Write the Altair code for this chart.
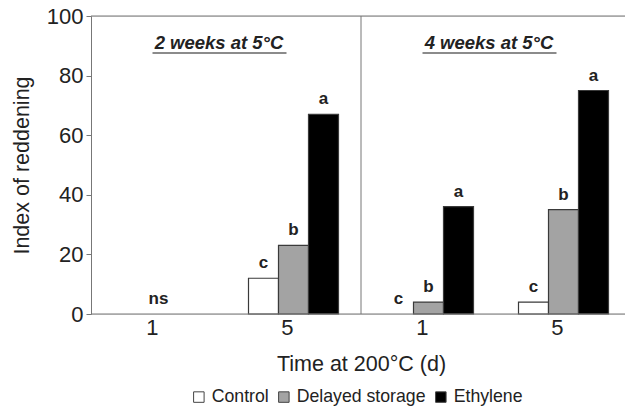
import altair as alt
import pandas as pd

groups = ["2w-1", "2w-5", "4w-1", "4w-5"]
treatments = ["Control", "Delayed storage", "Ethylene"]
control = [0, 12, 0, 4]
delayed = [0, 23, 4, 35]
ethylene = [0, 67, 36, 75]
letters_control = ["", "c", "c", "c"]
letters_delayed = ["", "b", "b", "b"]
letters_ethylene = ["", "a", "a", "a"]
ns_group = ["2w-1"]
ns_label = ["ns"]
panel_titles = ["2 weeks at 5°C", "4 weeks at 5°C"]
panel_centers = ["2w-5", "4w-5"]   # left band edge of these groups = panel centre
divider_group = ["4w-1"]
y_ticks = [0, 20, 40, 60, 80, 100]

rows = []
for i, g in enumerate(groups):
    for t, vals, labs in zip(treatments,
                             [control, delayed, ethylene],
                             [letters_control, letters_delayed, letters_ethylene]):
        rows.append({"group": g, "treatment": t, "value": vals[i], "letter": labs[i]})
df = pd.DataFrame(rows)

FONT = "Liberation Sans"
xscale = alt.Scale(domain=groups, range=[0, 540], paddingInner=0, paddingOuter=0)
yscale = alt.Scale(domain=[0, 100], nice=False)
offscale = alt.Scale(domain=treatments, paddingInner=0, paddingOuter=0.75)

base = alt.Chart(df)

bars = base.transform_filter("datum.value > 0").mark_bar(
    stroke="#3a3a3a", strokeWidth=1.2
).encode(
    x=alt.X("group:N", scale=xscale, sort=groups,
            axis=alt.Axis(title="Time at 200°C (d)", domain=False, ticks=False,
                          labelAngle=0, labelExpr="split(datum.label, '-')[1]",
                          labelFont=FONT, labelFontSize=22, labelColor="#222",
                          labelPadding=13, titleFont=FONT, titleFontSize=21.5,
                          titleFontWeight="normal", titleColor="#222", titlePadding=15)),
    xOffset=alt.XOffset("treatment:N", scale=offscale, sort=treatments),
    y=alt.Y("value:Q", scale=yscale,
            axis=alt.Axis(title="Index of reddening", values=y_ticks, grid=False,
                          domainColor="#777", tickColor="#777", tickSize=5,
                          labelFont=FONT, labelFontSize=22, labelColor="#222",
                          labelPadding=3, titleFont=FONT, titleFontSize=21.5,
                          titleFontWeight="normal", titleColor="#222", titlePadding=13)),
    fill=alt.Fill("treatment:N", sort=treatments,
                  scale=alt.Scale(domain=treatments, range=["#ffffff", "#a3a3a3", "#000000"]),
                  legend=alt.Legend(title=None, orient="none", direction="horizontal",
                                    legendX=99, legendY=372,
                                    symbolType="square", symbolSize=110,
                                    symbolStrokeColor="#444", symbolStrokeWidth=1,
                                    labelFont=FONT, labelFontSize=17.7, labelColor="#222",
                                    columnPadding=6, labelOffset=4)),
)

letters = base.transform_filter("datum.letter != ''").mark_text(
    font=FONT, fontSize=17, fontWeight="bold", baseline="bottom", dy=-6, color="#222"
).encode(
    x=alt.X("group:N", scale=xscale, sort=groups),
    xOffset=alt.XOffset("treatment:N", scale=offscale, sort=treatments),
    y=alt.Y("value:Q", scale=yscale),
    text="letter:N",
)

ns = alt.Chart(pd.DataFrame({"group": ns_group, "label": ns_label})).mark_text(
    font=FONT, fontSize=17, fontWeight="bold", baseline="bottom", dy=-6, color="#222"
).encode(
    x=alt.X("group:N", scale=xscale, sort=groups),
    y=alt.datum(0, scale=yscale),
    text="label:N",
)

tdf = pd.DataFrame({"group": panel_centers, "title": panel_titles})
titles = alt.Chart(tdf).mark_text(
    font=FONT, fontSize=18.5, fontWeight="bold", fontStyle="italic",
    baseline="middle", dx=-7, color="#222"
).encode(
    x=alt.X("group:N", scale=xscale, sort=groups, bandPosition=0),
    y=alt.datum(91, scale=yscale),
    text="title:N",
)
underlines = alt.Chart(tdf).mark_tick(
    orient="horizontal", size=134, thickness=1.5, color="#222", xOffset=-74
).encode(
    x=alt.X("group:N", scale=xscale, sort=groups, bandPosition=0),
    y=alt.datum(87.6, scale=yscale),
)

divider = alt.Chart(pd.DataFrame({"group": divider_group})).mark_rule(
    color="#777", strokeWidth=1
).encode(
    x=alt.X("group:N", scale=xscale, sort=groups, bandPosition=0),
)

top_line = alt.Chart(pd.DataFrame({"y": [100]})).mark_rule(color="#777", strokeWidth=1).encode(
    y=alt.Y("y:Q", scale=yscale)
)
bottom_line = alt.Chart(pd.DataFrame({"y": [0]})).mark_rule(color="#777", strokeWidth=1).encode(
    y=alt.Y("y:Q", scale=yscale)
)

chart = alt.layer(divider, top_line, bars, bottom_line, letters, ns, titles, underlines).properties(
    width=534, height=298,
    autosize=alt.AutoSizeParams(type="none"),
    padding={"left": 91, "top": 16, "right": 0, "bottom": 98},
).configure_view(stroke=None).configure(background="white")

chart.save("out.html", embed_options={"renderer": "svg", "actions": False})
